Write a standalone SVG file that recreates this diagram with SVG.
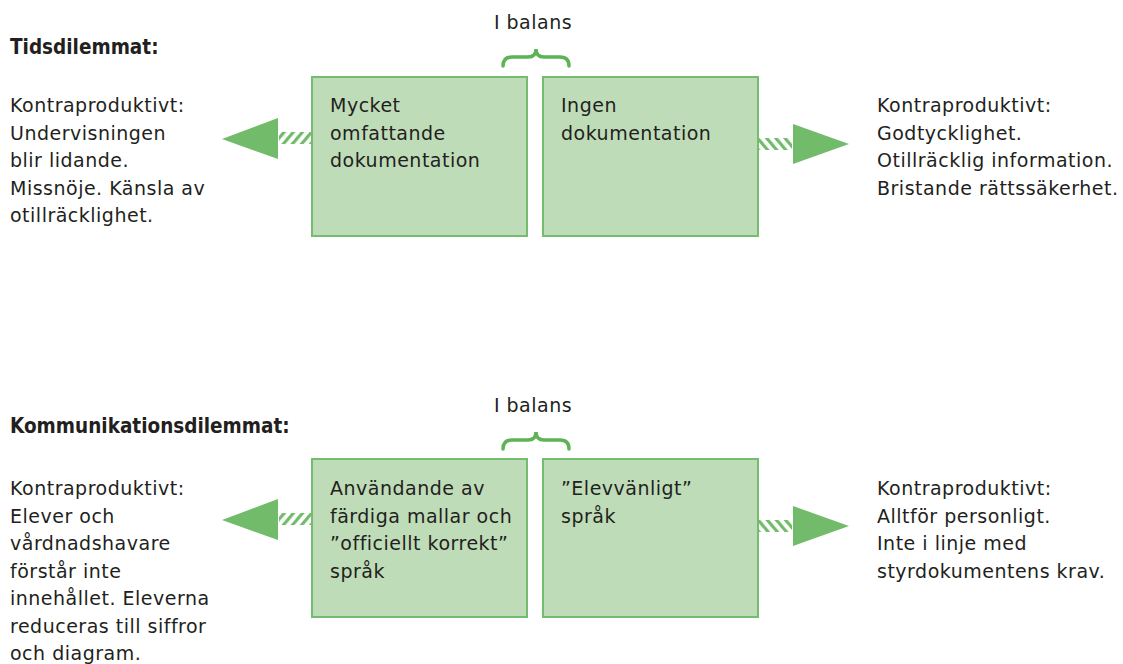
<svg xmlns="http://www.w3.org/2000/svg" width="1123" height="664" viewBox="0 0 1123 664">
<style>
.t{font-family:"DejaVu Sans",sans-serif;font-size:19px;letter-spacing:0.5px;fill:#231f20}
.h{font-family:"DejaVu Sans Condensed","DejaVu Sans",sans-serif;font-size:20.5px;font-weight:bold;fill:#231f20}
.box{fill:#bfdcb8;stroke:#74bd6e;stroke-width:2}
.arr{fill:#71bb6a}
.br{fill:none;stroke:#5cb456;stroke-width:3.5;stroke-linecap:round}
</style>
<defs>
<pattern id="hl" width="7" height="7" patternUnits="userSpaceOnUse" patternTransform="rotate(40)"><rect width="3.2" height="7" fill="#71bb6a"/></pattern>
<pattern id="hr" width="7" height="7" patternUnits="userSpaceOnUse" patternTransform="rotate(-40)"><rect width="3.2" height="7" fill="#71bb6a"/></pattern>
</defs>
<rect width="1123" height="664" fill="#fff"/>
<g id="headers">
<text class="h" x="10" y="54">Tidsdilemmat:</text>
<text class="h" x="10" y="433">Kommunikationsdilemmat:</text>
</g>
<g id="balans1">
<text class="t" x="533" y="29" text-anchor="middle">I balans</text>
<path class="br" d="M503,66 Q503,57 512,57 L528,57 Q536,57 536,49 Q536,57 544,57 L560,57 Q569,57 569,66"/>
</g>
<g id="balans2">
<text class="t" x="533" y="412" text-anchor="middle">I balans</text>
<path class="br" d="M503,449 Q503,440 512,440 L528,440 Q536,440 536,432 Q536,440 544,440 L560,440 Q569,440 569,449"/>
</g>
<g id="left1">
<text class="t" x="10" y="112">Kontraproduktivt:</text>
<text class="t" x="10" y="139.5">Undervisningen</text>
<text class="t" x="10" y="167">blir lidande.</text>
<text class="t" x="10" y="194.5">Missnöje. Känsla av</text>
<text class="t" x="10" y="222">otillräcklighet.</text>
</g>
<g id="box1a">
<rect class="box" x="312" y="77" width="215" height="159"/>
<text class="t" x="330" y="112">Mycket</text>
<text class="t" x="330" y="139.5">omfattande</text>
<text class="t" x="330" y="167">dokumentation</text>
</g>
<g id="box1b">
<rect class="box" x="543" y="77" width="215" height="159"/>
<text class="t" x="561" y="112">Ingen</text>
<text class="t" x="561" y="139.5">dokumentation</text>
</g>
<g id="right1">
<text class="t" x="877" y="112">Kontraproduktivt:</text>
<text class="t" x="877" y="139.5">Godtycklighet.</text>
<text class="t" x="877" y="167">Otillräcklig information.</text>
<text class="t" x="877" y="194.5">Bristande rättssäkerhet.</text>
</g>
<g id="left2">
<text class="t" x="10" y="495">Kontraproduktivt:</text>
<text class="t" x="10" y="522.5">Elever och</text>
<text class="t" x="10" y="550">vårdnadshavare</text>
<text class="t" x="10" y="577.5">förstår inte</text>
<text class="t" x="10" y="605">innehållet. Eleverna</text>
<text class="t" x="10" y="632.5">reduceras till siffror</text>
<text class="t" x="10" y="660">och diagram.</text>
</g>
<g id="box2a">
<rect class="box" x="312" y="459" width="215" height="158"/>
<text class="t" x="330" y="495">Användande av</text>
<text class="t" x="330" y="522.5">färdiga mallar och</text>
<text class="t" x="330" y="550">”officiellt korrekt”</text>
<text class="t" x="330" y="577.5">språk</text>
</g>
<g id="box2b">
<rect class="box" x="543" y="459" width="215" height="158"/>
<text class="t" x="561" y="495">”Elevvänligt”</text>
<text class="t" x="561" y="522.5">språk</text>
</g>
<g id="right2">
<text class="t" x="877" y="495">Kontraproduktivt:</text>
<text class="t" x="877" y="522.5">Alltför personligt.</text>
<text class="t" x="877" y="550">Inte i linje med</text>
<text class="t" x="877" y="577.5">styrdokumentens krav.</text>
</g>
<g id="connectors">
<rect x="279" y="132" width="32" height="12" fill="url(#hl)"/>
<polygon class="arr" points="222,139 278,118 278,159"/>
<rect x="758" y="138" width="34" height="12" fill="url(#hr)"/>
<polygon class="arr" points="849,144 793,124 793,164"/>
<rect x="279" y="513" width="32" height="12" fill="url(#hl)"/>
<polygon class="arr" points="222,520 278,499 278,540"/>
<rect x="758" y="520" width="34" height="12" fill="url(#hr)"/>
<polygon class="arr" points="849,526 793,506 793,546"/>
</g>
</svg>
